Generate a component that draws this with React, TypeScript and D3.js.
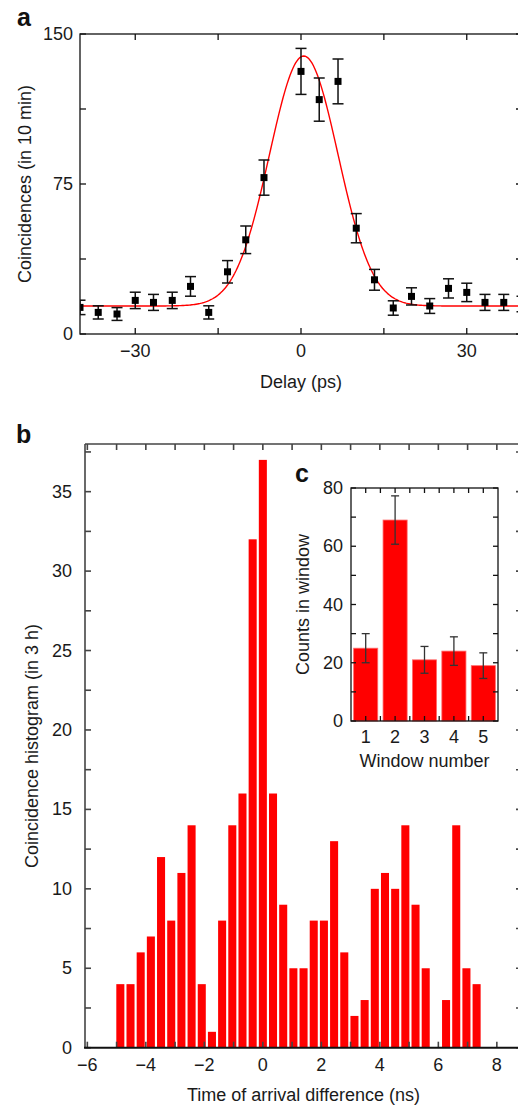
import React from 'react';
import * as d3 from 'd3';

// panel a: coincidences vs delay
const delayPs = [-40, -36.7, -33.3, -30, -26.7, -23.3, -20, -16.7, -13.3, -10, -6.7, 0, 3.3, 6.7, 10, 13.3, 16.7, 20, 23.3, 26.7, 30, 33.3, 36.7, 40];
const coincidences = [13.3, 10.8, 10, 16.8, 15.8, 16.8, 23.8, 10.8, 31.1, 47.1, 78.2, 131.3, 117.2, 126.3, 52.9, 27.1, 13, 18.8, 14, 22.8, 20.8, 15.8, 15.8, 15];
const coincErr = [3.6, 3.3, 3.2, 4.1, 4.0, 4.1, 4.9, 3.3, 5.6, 6.9, 8.8, 11.5, 10.8, 11.2, 7.3, 5.2, 3.6, 4.3, 3.7, 4.8, 4.6, 4.0, 4.0, 3.9];
// gaussian fit: offset, amplitude, centre, sigma
const fitParams = { offset: 14, amp: 125, mu: 0.5, sigma: 6.2 };
const aXTicks = [-30, 0, 30];
const aXMinor = [-15, 15];
const aYTicks = [0, 75, 150];
const aYMinor = [37.5, 112.5];

// panel b: histogram
const binCenters = [-4.872, -4.524, -4.176, -3.828, -3.48, -3.132, -2.784, -2.436, -2.088, -1.74, -1.392, -1.044, -0.696, -0.348, 0, 0.348, 0.696, 1.044, 1.392, 1.74, 2.088, 2.436, 2.784, 3.132, 3.48, 3.828, 4.176, 4.524, 4.872, 5.22, 5.568, 5.916, 6.264, 6.612, 6.96, 7.308];
const binCounts = [4, 4, 6, 7, 12, 8, 11, 14, 4, 1, 8, 14, 16, 32, 37, 16, 9, 5, 5, 8, 8, 13, 6, 2, 3, 10, 11, 10, 14, 9, 5, 0, 3, 14, 5, 4];
const binWidth = 0.348;
const bXTicks = [-6, -4, -2, 0, 2, 4, 6, 8];
const bXMinor = [-5, -3, -1, 1, 3, 5, 7];
const bYTicks = [0, 5, 10, 15, 20, 25, 30, 35];
const bYMinor = [2.5, 7.5, 12.5, 17.5, 22.5, 27.5, 32.5, 37.5];

// panel c: counts per window
const windows = [1, 2, 3, 4, 5];
const windowCounts = [25, 69, 21, 24, 19];
const windowErr = [5, 8.3, 4.6, 4.9, 4.4];
const cYTicks = [0, 20, 40, 60, 80];
const cYMinor = [10, 30, 50, 70];
const cXMinor = [1.5, 2.5, 3.5, 4.5];

const font = 'Liberation Sans, Arial, Helvetica, sans-serif';
const fmt = (v: number) => (v < 0 ? `\u2212${Math.abs(v)}` : `${v}`);

export default function App() {
  // ---- panel a scales
  const xa = d3.scaleLinear().domain([-40, 40]).range([80, 522]);
  const ya = d3.scaleLinear().domain([0, 150]).range([334, 34]);
  const fitX = d3.range(-40, 40.01, 0.25);
  const gauss = (x: number) =>
    fitParams.offset + fitParams.amp * Math.exp(-((x - fitParams.mu) ** 2) / (2 * fitParams.sigma ** 2));
  const fitLine = d3.line<number>().x(d => xa(d)).y(d => ya(gauss(d)))(fitX) || '';

  // ---- panel b scales
  const xb = d3.scaleLinear().domain([-6.08, 8.86]).range([85, 522]);
  const yb = d3.scaleLinear().domain([0, 38]).range([1047.7, 444]);
  const barW = xb(binWidth * 0.79) - xb(0);

  // ---- panel c scales
  const xc = d3.scaleLinear().domain([0.5, 5.5]).range([351, 498]);
  const yc = d3.scaleLinear().domain([0, 80]).range([721, 488]);
  const cBarW = xc(0.82) - xc(0);

  const tk = 6;

  return (
    <svg width={518} height={1106} style={{ position: 'absolute', left: 0, top: 0, background: '#fff' }} fontFamily={font}>
      <defs>
        <clipPath id="clipA">
          <rect x={80} y={34} width={442} height={300} />
        </clipPath>
      </defs>

      {/* ================= panel a ================= */}
      <text x={17} y={26} fontSize={25} fontWeight="bold" fill="#111">a</text>
      <g clipPath="url(#clipA)">
        <path d={fitLine} fill="none" stroke="#ff0000" strokeWidth={1.4} />
        {delayPs.map((d, i) => (
          <g key={i} stroke="#111" strokeWidth={1.5}>
            <line x1={xa(d)} x2={xa(d)} y1={ya(coincidences[i] - coincErr[i])} y2={ya(coincidences[i] + coincErr[i])} />
            <line x1={xa(d) - 5.5} x2={xa(d) + 5.5} y1={ya(coincidences[i] - coincErr[i])} y2={ya(coincidences[i] - coincErr[i])} />
            <line x1={xa(d) - 5.5} x2={xa(d) + 5.5} y1={ya(coincidences[i] + coincErr[i])} y2={ya(coincidences[i] + coincErr[i])} />
            <rect x={xa(d) - 3.5} y={ya(coincidences[i]) - 3.5} width={7} height={7} fill="#000" stroke="none" />
          </g>
        ))}
      </g>
      <g stroke="#111" strokeWidth={1.3} fill="none">
        <rect x={80} y={34} width={442} height={300} />
        {[...aXTicks, ...aXMinor].map(v => (
          <g key={'ax' + v}>
            <line x1={xa(v)} x2={xa(v)} y1={334} y2={334 - tk} />
            <line x1={xa(v)} x2={xa(v)} y1={34} y2={34 + tk} />
          </g>
        ))}
        {[...aYTicks, ...aYMinor].map(v => (
          <g key={'ay' + v}>
            <line x1={80} x2={80 + tk} y1={ya(v)} y2={ya(v)} />
            <line x1={522} x2={522 - tk} y1={ya(v)} y2={ya(v)} />
          </g>
        ))}
      </g>
      <g fontSize={18} fill="#1a1a1a">
        {aXTicks.map(v => (
          <text key={'axl' + v} x={xa(v)} y={357} textAnchor="middle">{fmt(v)}</text>
        ))}
        {aYTicks.map(v => (
          <text key={'ayl' + v} x={73} y={ya(v)} textAnchor="end" dominantBaseline="central">{fmt(v)}</text>
        ))}
        <text x={(80 + 522) / 2} y={388} textAnchor="middle">Delay (ps)</text>
        <text transform={`translate(31,184) rotate(-90)`} textAnchor="middle">Coincidences (in 10 min)</text>
      </g>

      {/* ================= panel b ================= */}
      <text x={16} y={443} fontSize={25} fontWeight="bold" fill="#111">b</text>
      <g fill="#ff0000">
        {binCenters.map((c, i) =>
          binCounts[i] > 0 ? (
            <rect key={i} x={xb(c) - barW / 2} y={yb(binCounts[i])} width={barW} height={yb(0) - yb(binCounts[i])} />
          ) : null
        )}
      </g>
      <g stroke="#444" strokeWidth={1.6} fill="none">
        <line x1={85} x2={85} y1={444} y2={1047.7} />
        <line x1={85} x2={522} y1={444} y2={444} />
        <line x1={522} x2={522} y1={444} y2={1047.7} />
        {[...bXTicks, ...bXMinor].map(v => (
          <g key={'bx' + v}>
            <line x1={xb(v)} x2={xb(v)} y1={1047.7} y2={1047.7 - tk} />
            <line x1={xb(v)} x2={xb(v)} y1={444} y2={444 + tk} />
          </g>
        ))}
        {[...bYTicks, ...bYMinor].map(v => (
          <g key={'by' + v}>
            <line x1={85} x2={85 + tk} y1={yb(v)} y2={yb(v)} />
            <line x1={522} x2={522 - tk} y1={yb(v)} y2={yb(v)} />
          </g>
        ))}
        <line x1={84} x2={522} y1={1047.7} y2={1047.7} stroke="#111" strokeWidth={2} />
      </g>
      <g fontSize={18} fill="#1a1a1a">
        {bXTicks.map(v => (
          <text key={'bxl' + v} x={xb(v)} y={1071} textAnchor="middle">{fmt(v)}</text>
        ))}
        {bYTicks.map(v => (
          <text key={'byl' + v} x={72} y={yb(v)} textAnchor="end" dominantBaseline="central">{fmt(v)}</text>
        ))}
        <text x={(85 + 522) / 2} y={1101} textAnchor="middle">Time of arrival difference (ns)</text>
        <text transform={`translate(38,746) rotate(-90)`} textAnchor="middle">Coincidence histogram (in 3 h)</text>
      </g>

      {/* ================= panel c (inset) ================= */}
      <text x={295} y={482} fontSize={25} fontWeight="bold" fill="#111">c</text>
      <g>
        {windows.map((w, i) => (
          <g key={w}>
            <rect x={xc(w) - cBarW / 2} y={yc(windowCounts[i])} width={cBarW} height={yc(0) - yc(windowCounts[i])} fill="#ff0000" stroke="#ff6b6b" strokeWidth={0.8} />
            <g stroke="#333" strokeWidth={1.3}>
              <line x1={xc(w)} x2={xc(w)} y1={yc(windowCounts[i] - windowErr[i])} y2={yc(windowCounts[i] + windowErr[i])} />
              <line x1={xc(w) - 4} x2={xc(w) + 4} y1={yc(windowCounts[i] - windowErr[i])} y2={yc(windowCounts[i] - windowErr[i])} />
              <line x1={xc(w) - 4} x2={xc(w) + 4} y1={yc(windowCounts[i] + windowErr[i])} y2={yc(windowCounts[i] + windowErr[i])} />
            </g>
          </g>
        ))}
      </g>
      <g stroke="#111" strokeWidth={1.3} fill="none">
        <rect x={351} y={488} width={147} height={233} />
        {[...windows, ...cXMinor].map(v => (
          <g key={'cx' + v}>
            <line x1={xc(v)} x2={xc(v)} y1={721} y2={721 - 5} />
            <line x1={xc(v)} x2={xc(v)} y1={488} y2={488 + 5} />
          </g>
        ))}
        {[...cYTicks, ...cYMinor].map(v => (
          <g key={'cy' + v}>
            <line x1={351} x2={351 + 5} y1={yc(v)} y2={yc(v)} />
            <line x1={498} x2={498 - 5} y1={yc(v)} y2={yc(v)} />
          </g>
        ))}
      </g>
      <g fontSize={18} fill="#1a1a1a">
        {windows.map(v => (
          <text key={'cxl' + v} x={xc(v)} y={743} textAnchor="middle">{v}</text>
        ))}
        {cYTicks.map(v => (
          <text key={'cyl' + v} x={343} y={yc(v)} textAnchor="end" dominantBaseline="central">{v}</text>
        ))}
        <text x={(351 + 498) / 2} y={767} textAnchor="middle">Window number</text>
        <text transform={`translate(309,604.5) rotate(-90)`} textAnchor="middle">Counts in window</text>
      </g>
    </svg>
  );
}
